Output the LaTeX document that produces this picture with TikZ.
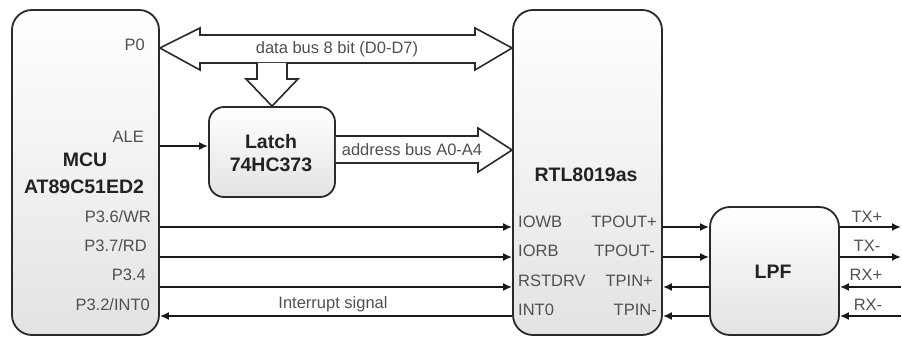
\documentclass[tikz,border=0pt]{standalone}
\usepackage{fontspec}
\setmainfont{Liberation Sans}
\usetikzlibrary{arrows.meta,shadings}
\definecolor{txt}{HTML}{505050}
\definecolor{btxt}{HTML}{222222}
\definecolor{edge}{HTML}{2A2A2A}
\tikzset{
  chip/.style={draw=edge, line width=1.8pt, rounded corners=20pt, top color=white, bottom color=black!11, inner sep=0pt},
  lbl/.style={text=txt, font=\fontsize{16.5}{18}\selectfont, inner sep=0pt},
  blbl/.style={text=btxt, font=\fontsize{19.5}{22}\selectfont\bfseries, inner sep=0pt, align=center},
  sig/.style={line width=1.9pt, draw=black!90, -{Latex[length=9pt,width=8pt]}},
  line/.style={line width=1.9pt, draw=black!90},
  bus/.style={draw=edge, line width=1.6pt, fill=white, line join=miter}
}
\begin{document}
\begin{tikzpicture}[x=1pt,y=-1pt]
\useasboundingbox (0,0) rectangle (902,339);
% boxes
\node[chip, minimum width=147pt, minimum height=325pt] (mcu) at (85.5,172.5) {};
\node[chip, minimum width=149pt, minimum height=325pt] (rtl) at (587.5,172.5) {};
\node[chip, rounded corners=15pt, minimum width=126pt, minimum height=90pt] (latch) at (272,152) {};
\node[chip, minimum width=129pt, minimum height=128pt] (lpf) at (774.5,271) {};
% box titles
\node[blbl] (tmcu) at (85,160) {MCU};
\node[blbl] (tat) at (84,187) {AT89C51ED2};
\node[blbl] (tlatch) at (271,142) {Latch};
\node[blbl] (thc) at (271,165) {74HC373};
\node[blbl] (trtl) at (586,175) {RTL8019as};
\node[blbl] (tlpf) at (773,272) {LPF};
% MCU pins
\node[lbl, anchor=east] (p0) at (145,45) {P0};
\node[lbl, anchor=east] (ale) at (144,137) {ALE};
\node[lbl, anchor=east] (wr) at (151,217) {P3.6/WR};
\node[lbl, anchor=east] (rd) at (147,246) {P3.7/RD};
\node[lbl, anchor=east] (p34) at (146,275) {P3.4};
\node[lbl, anchor=east] (int) at (150,305) {P3.2/INT0};
% RTL pins
\node[lbl, anchor=west] (iowb) at (518,222) {IOWB};
\node[lbl, anchor=west] (iorb) at (518,251) {IORB};
\node[lbl, anchor=west] (rst) at (518,281) {RSTDRV};
\node[lbl, anchor=west] (int0) at (518,310) {INT0};
\node[lbl, anchor=east] (tpop) at (657,222) {TPOUT+};
\node[lbl, anchor=east] (tpom) at (655,251) {TPOUT-};
\node[lbl, anchor=east] (tpip) at (653,281) {TPIN+};
\node[lbl, anchor=east] (tpim) at (657,310) {TPIN-};
% LPF outputs labels
\node[lbl] (txp) at (867,217) {TX+};
\node[lbl] (txm) at (867,246) {TX-};
\node[lbl] (rxp) at (866,275) {RX+};
\node[lbl] (rxm) at (868,305) {RX-};
% buses
\draw[bus] (mcu.east |- 0,48) -- (200,28) -- (200,35) -- (475,35) -- (475,28) -- (rtl.west |- 0,48)
  -- (475,70) -- (475,63) -- (200,63) -- (200,70) -- cycle;
\draw[bus] (257,63) -- (257,79) -- (246,79) -- (latch.north) -- (298,79) -- (287,79) -- (287,63);
\draw[bus] (latch.east |- 0,136) -- (478,136) -- (478,128) -- (rtl.west |- 0,150) -- (478,172) -- (478,163) -- (latch.east |- 0,163);
\node[lbl] (dbus) at (337,49) {data bus 8 bit (D0-D7)};
\node[lbl] (abus) at (412,150) {address bus A0-A4};
% control signals
\draw[sig] (mcu.east |- 0,146) -- (latch.west |- 0,146);
\draw[sig] (mcu.east |- 0,227) -- (rtl.west |- 0,227);
\draw[sig] (mcu.east |- 0,257) -- (rtl.west |- 0,257);
\draw[sig] (mcu.east |- 0,287) -- (rtl.west |- 0,287);
\draw[sig] (rtl.west |- 0,316) -- (mcu.east |- 0,316);
\node[lbl] (isig) at (333,304) {Interrupt signal};
% RTL <-> LPF
\draw[sig] (rtl.east |- 0,227) -- (lpf.west |- 0,227);
\draw[sig] (rtl.east |- 0,257) -- (lpf.west |- 0,257);
\draw[sig] (lpf.west |- 0,287) -- (rtl.east |- 0,287);
\draw[sig] (lpf.west |- 0,316) -- (rtl.east |- 0,316);
% LPF <-> outside
\coordinate (otxp) at (901,227);
\coordinate (otxm) at (901,257);
\coordinate (orxp) at (901,287);
\coordinate (orxm) at (901,316);
\draw[sig] (lpf.east |- otxp) -- (otxp);
\draw[sig] (lpf.east |- otxm) -- (otxm);
\draw[sig] (orxp) -- (lpf.east |- orxp);
\draw[sig] (orxm) -- (lpf.east |- orxm);
\end{tikzpicture}
\end{document}
